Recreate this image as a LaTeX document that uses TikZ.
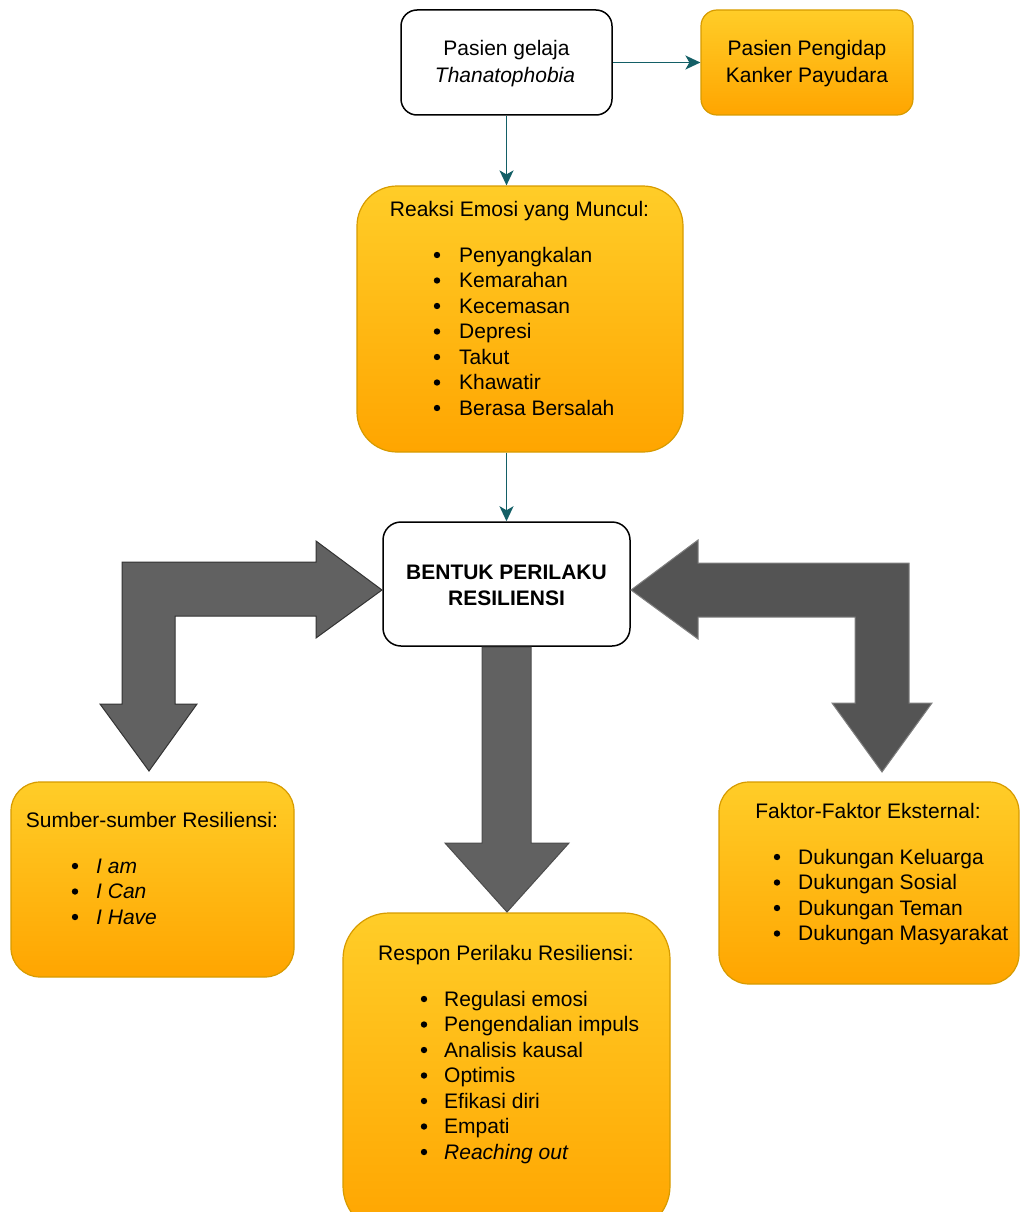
\documentclass[tikz,border=0pt]{standalone}
\usepackage{fontspec}
\setmainfont{Liberation Sans}
\usetikzlibrary{arrows.meta}
\definecolor{connc}{HTML}{135F66}
\definecolor{otop}{HTML}{FFCD28}
\definecolor{obot}{HTML}{FFA500}
\definecolor{oborder}{HTML}{D79B00}
\begin{document}
\begin{tikzpicture}[x=1pt,y=-1pt,
  font=\fontsize{21}{25.5}\selectfont,
  whitebox/.style={draw=black, line width=1.5pt, fill=white, rectangle, inner sep=0pt},
  orangebox/.style={draw=oborder, line width=1.2pt, top color=otop, bottom color=obot, rectangle, inner sep=0pt},
  conn/.style={draw=connc, line width=1.6pt, -{Stealth[length=15pt,width=14pt,inset=4pt]}},
  txt/.style={inner sep=0pt, anchor=base},
  item/.style={inner sep=0pt, anchor=base west},
  bul/.style={fill=black},
  bigarrowA/.style={fill=black!62, draw=black!80, line width=1pt},
  bigarrowB/.style={fill=black!67, draw=black!50, line width=1pt},
  bigarrowC/.style={fill=black!62, draw=black!70, line width=1pt}]
\useasboundingbox (0,0) rectangle (1020,1212);

% boxes
\node[whitebox, rounded corners=16pt, minimum width=211, minimum height=105] (pas) at (506.5,62.5) {};
\node[orangebox, rounded corners=16pt, minimum width=212, minimum height=105] (peng) at (807,62.5) {};
\node[orangebox, rounded corners=40pt, minimum width=326, minimum height=266] (reaksi) at (520,319) {};
\node[whitebox, rounded corners=18pt, minimum width=247, minimum height=124] (bentuk) at (506.5,584) {};
\node[orangebox, rounded corners=29pt, minimum width=283, minimum height=195] (sumber) at (152.5,879.5) {};
\node[orangebox, rounded corners=46pt, minimum width=327, minimum height=319] (respon) at (506.5,1072.5) {};
\node[orangebox, rounded corners=30pt, minimum width=300, minimum height=202] (faktor) at (869,883) {};

% connectors
\draw[conn] (pas.east) -- (peng.west);
\draw[conn] (pas.south) -- (pas.south |- reaksi.north);
\draw[conn] (reaksi.south -| bentuk.north) -- (bentuk.north);

% big arrows
\draw[bigarrowA] (122,562) -- (316,562) -- (316,541) -- (382,590) -- (316,638) -- (316,616)
  -- (175,616) -- (175,704) -- (197,704) -- (149,771) -- (100,704) -- (122,704) -- cycle;
\draw[bigarrowB] (909,563) -- (698,563) -- (698,540) -- (631,590) -- (698,639) -- (698,617)
  -- (855,617) -- (855,703) -- (832,703) -- (882,772) -- (932,703) -- (909,703) -- cycle;
\draw[bigarrowC] (482,647) -- (531,647) -- (531,843) -- (569,843) -- (507,912) -- (445,843) -- (482,843) -- cycle;

% texts: top
\node[txt] (t1a) at (506.5,56) {Pasien gelaja};
\node[txt] (t1b) at (505,83) {\itshape Thanatophobia};
\node[txt] (t2a) at (807,56) {Pasien Pengidap};
\node[txt] (t2b) at (807,83) {Kanker Payudara};

% reaksi
\node[txt] (r0) at (519.5,216) {Reaksi Emosi yang Muncul:};
\foreach \t [count=\i] in {Penyangkalan,Kemarahan,Kecemasan,Depresi,Takut,Khawatir,Berasa Bersalah}{
  \pgfmathsetmacro{\yy}{255+(\i-1)*25.5}
  \fill[bul] (437,\yy) circle (3.2);
  \node[item] (r\i) at (459,\yy+7) {\t};
}

% bentuk
\node[txt] (b1) at (506.5,579) {\bfseries BENTUK PERILAKU};
\node[txt] (b2) at (506.5,605) {\bfseries RESILIENSI};

% sumber
\node[txt] (s0) at (152,827) {Sumber-sumber Resiliensi:};
\foreach \t [count=\i] in {I am,I Can,I Have}{
  \pgfmathsetmacro{\yy}{866+(\i-1)*25.5}
  \fill[bul] (75,\yy) circle (3.2);
  \node[item] (s\i) at (96,\yy+7) {\itshape \t};
}

% respon
\node[txt] (p0) at (506,960) {Respon Perilaku Resiliensi:};
\foreach \t [count=\i] in {Regulasi emosi,Pengendalian impuls,Analisis kausal,Optimis,Efikasi diri,Empati}{
  \pgfmathsetmacro{\yy}{999+(\i-1)*25.5}
  \fill[bul] (424,\yy) circle (3.2);
  \node[item] (p\i) at (444,\yy+7) {\t};
}
\fill[bul] (424,1152) circle (3.2);
\node[item] (p7) at (444,1159) {\itshape Reaching out};

% faktor
\node[txt] (f0) at (868,818) {Faktor-Faktor Eksternal:};
\foreach \t [count=\i] in {Dukungan Keluarga,Dukungan Sosial,Dukungan Teman,Dukungan Masyarakat}{
  \pgfmathsetmacro{\yy}{857+(\i-1)*25.5}
  \fill[bul] (777,\yy) circle (3.2);
  \node[item] (f\i) at (798,\yy+7) {\t};
}
\end{tikzpicture}
\end{document}
